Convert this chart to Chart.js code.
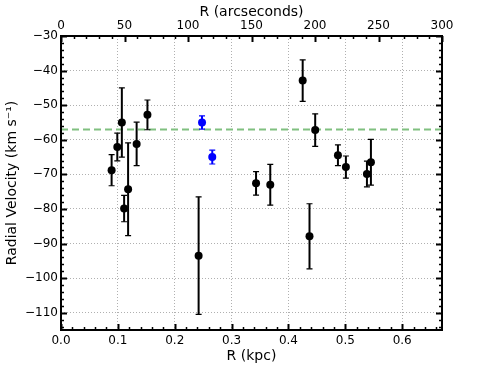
<!DOCTYPE html>
<html>
<head>
<meta charset="utf-8">
<script src="https://cdn.jsdelivr.net/npm/chart.js@4/dist/chart.umd.min.js"></script>
<style>
html,body{margin:0;padding:0;background:#fff;}
canvas{display:block;}
</style>
</head>
<body>
<canvas id="c" width="491" height="368"></canvas>
<script>
// ---- data ----
const blackR   = [0.089, 0.099, 0.107, 0.111, 0.118, 0.133, 0.152, 0.242, 0.343, 0.368, 0.425, 0.437, 0.447, 0.487, 0.501, 0.538, 0.545];
const blackV   = [-68.8, -62.1, -55.0, -79.9, -74.3, -61.2, -52.8, -93.5, -72.6, -73.0, -42.9, -87.9, -57.2, -64.5, -67.9, -69.9, -66.5];
const blackErr = [4.5, 4.0, 10.0, 3.8, 13.4, 6.3, 4.3, 17.0, 3.4, 5.9, 6.0, 9.4, 4.7, 3.0, 3.2, 3.7, 6.6];
const blueR    = [0.248, 0.266];
const blueV    = [-55.0, -65.0];
const blueErr  = [1.9, 2.0];
const meanV    = -57.0;
const meanR    = [0, 0.67];

const kpcTicks    = [0, 0.1, 0.2, 0.3, 0.4, 0.5, 0.6];
const arcsecTicks = [0, 50, 100, 150, 200, 250, 300];
const velTicks    = [-110, -100, -90, -80, -70, -60, -50, -40, -30];

const FONT = 'DejaVu Sans';

const errs = { black: blackErr, blue: blueErr };

const errorBarPlugin = {
  id: 'errbars',
  beforeDatasetDraw(chart, args) {
    const ds = chart.data.datasets[args.index];
    if (!ds.errKey) return;
    const e = errs[ds.errKey];
    const xs = chart.scales.x, ys = chart.scales.y;
    const ctx = chart.ctx;
    ctx.save();
    ctx.strokeStyle = ds.backgroundColor;
    ds.data.forEach((p, i) => {
      const px = xs.getPixelForValue(p.x);
      const t = ys.getPixelForValue(p.y + e[i]);
      const b = ys.getPixelForValue(p.y - e[i]);
      ctx.lineWidth = 2;
      ctx.beginPath(); ctx.moveTo(px, t); ctx.lineTo(px, b); ctx.stroke();
      ctx.lineWidth = 1.2;
      ctx.beginPath();
      ctx.moveTo(px - 3, t); ctx.lineTo(px + 3, t);
      ctx.moveTo(px - 3, b); ctx.lineTo(px + 3, b);
      ctx.stroke();
    });
    ctx.restore();
  }
};

const framePlugin = {
  id: 'frame',
  afterDraw(chart) {
    const {ctx, chartArea: a} = chart;
    const xs = chart.scales.x, x2 = chart.scales.x2, ys = chart.scales.y;
    ctx.save();
    ctx.strokeStyle = '#000';
    for (let k = 0; k <= 33; k++) {
      const v = k * 0.02;
      const major = k % 5 === 0;
      const px = Math.round(xs.getPixelForValue(v)) + 0.5;
      ctx.lineWidth = major ? 2 : 1.5;
      const L = major ? 6 : 3;
      ctx.beginPath(); ctx.moveTo(px, a.bottom); ctx.lineTo(px, a.bottom - L); ctx.stroke();
    }
    for (let k = 0; k <= 30; k++) {
      const v = k * 10;
      const major = k % 5 === 0;
      const px = Math.round(x2.getPixelForValue(v)) + 0.5;
      ctx.lineWidth = major ? 2 : 1.5;
      const L = major ? 6 : 3;
      ctx.beginPath(); ctx.moveTo(px, a.top); ctx.lineTo(px, a.top + L); ctx.stroke();
    }
    for (let v = -114; v <= -30; v += 2) {
      const major = v % 10 === 0;
      const py = Math.round(ys.getPixelForValue(v)) + 0.5;
      ctx.lineWidth = major ? 2 : 1.5;
      const L = major ? 6 : 3;
      ctx.beginPath();
      ctx.moveTo(a.left, py); ctx.lineTo(a.left + L, py);
      ctx.moveTo(a.right, py); ctx.lineTo(a.right - L, py);
      ctx.stroke();
    }
    ctx.lineWidth = 2;
    ctx.strokeRect(a.left, a.top, a.right - a.left, a.bottom - a.top);
    ctx.restore();
  }
};

const tickFont = { family: FONT, size: 12 };
const titleFont = { family: FONT, size: 14 };
const minus = s => String(s).replace('-', '\u2212');

new Chart(document.getElementById('c'), {
  type: 'scatter',
  data: {
    datasets: [
      {
        label: 'blue',
        errKey: 'blue',
        data: blueR.map((r, i) => ({x: r, y: blueV[i]})),
        backgroundColor: '#0000ff',
        borderColor: '#0000ff',
        pointRadius: 4,
        pointBorderWidth: 0,
        order: 1
      },
      {
        label: 'black',
        errKey: 'black',
        data: blackR.map((r, i) => ({x: r, y: blackV[i]})),
        backgroundColor: '#000000',
        borderColor: '#000000',
        pointRadius: 4,
        pointBorderWidth: 0,
        order: 2
      },
      {
        label: 'mean',
        data: meanR.map(r => ({x: r, y: meanV})),
        showLine: true,
        pointRadius: 0,
        borderColor: '#80c080',
        borderWidth: 2,
        borderDash: [7, 4],
        order: 3
      }
    ]
  },
  options: {
    responsive: false,
    animation: false,
    devicePixelRatio: 1,
    events: [],
    layout: { padding: { left: 0, right: 49, top: 0, bottom: 0 } },
    plugins: { legend: { display: false }, tooltip: { enabled: false } },
    scales: {
      x: {
        type: 'linear', position: 'bottom', min: 0, max: 0.67,
        afterBuildTicks: s => { s.ticks = kpcTicks.map(v => ({value: v})); },
        afterFit: s => { s.height = 38; },
        ticks: { font: tickFont, color: '#000', padding: 4, maxRotation: 0, callback: v => v.toFixed(1) },
        grid: { color: '#b0b0b0', lineWidth: 1, drawTicks: false },
        border: { display: false, dash: [1, 2] },
        title: { display: true, text: 'R (kpc)', font: titleFont, color: '#000', padding: { top: 0, bottom: 3 } }
      },
      x2: {
        type: 'linear', position: 'top', min: 0, max: 300,
        afterBuildTicks: s => { s.ticks = arcsecTicks.map(v => ({value: v})); },
        afterFit: s => { s.height = 36; },
        ticks: { font: tickFont, color: '#000', padding: 3, maxRotation: 0 },
        grid: { display: false, drawTicks: false },
        border: { display: false },
        title: { display: true, text: 'R (arcseconds)', font: titleFont, color: '#000', padding: { top: 4, bottom: 0 } }
      },
      y: {
        type: 'linear', position: 'left', min: -115, max: -30,
        afterBuildTicks: s => { s.ticks = velTicks.map(v => ({value: v})); },
        afterFit: s => { s.width = 61; },
        ticks: { font: tickFont, color: '#000', padding: 3, callback: v => minus(v) },
        grid: { color: '#b0b0b0', lineWidth: 1, drawTicks: false },
        border: { display: false, dash: [1, 2] },
        title: { display: true, text: 'Radial Velocity (km s\u207B\u00B9)', font: titleFont, color: '#000', padding: { top: 4, bottom: 0 } }
      }
    }
  },
  plugins: [errorBarPlugin, framePlugin]
});
</script>
</body>
</html>
